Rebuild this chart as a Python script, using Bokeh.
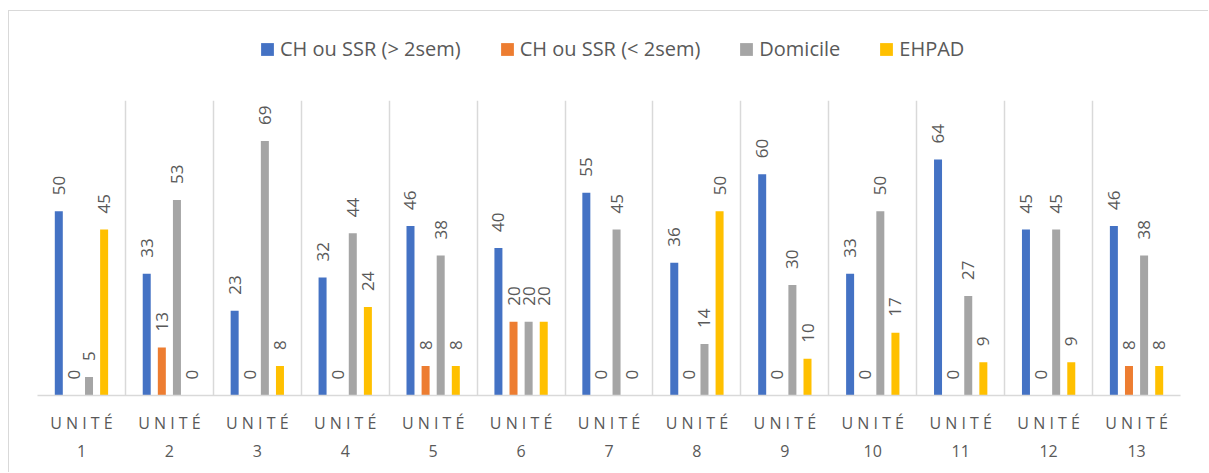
import math
from bokeh.plotting import figure
from bokeh.layouts import column
from bokeh.models import ColumnDataSource, FixedTicker, Legend, LegendItem, Range1d
from bokeh.transform import dodge
from bokeh.core.properties import value
from bokeh.embed import file_html
from bokeh.resources import INLINE

# ---- data ----
unit_numbers = ["1", "2", "3", "4", "5", "6", "7", "8", "9", "10", "11", "12", "13"]
series_names = ["CH ou SSR (> 2sem)", "CH ou SSR (< 2sem)", "Domicile", "EHPAD"]
ch_long = [50, 33, 23, 32, 46, 40, 55, 36, 60, 33, 64, 45, 46]
ch_short = [0, 13, 0, 0, 8, 20, 0, 0, 0, 0, 0, 0, 8]
domicile = [5, 53, 69, 44, 38, 20, 45, 14, 30, 50, 27, 45, 38]
ehpad = [45, 0, 8, 24, 8, 20, 0, 50, 10, 17, 9, 9, 8]

colors = ["#4472C4", "#ED7D31", "#A5A5A5", "#FFC000"]
series_values = [ch_long, ch_short, domicile, ehpad]
offsets = [-0.2577, -0.0859, 0.0859, 0.2577]
bar_width = 0.091
text_color = "#595959"
grid_color = "#d9d9d9"

centers = [i + 0.5 for i in range(len(unit_numbers))]

# ---- main chart ----
p = figure(width=1199, height=372,
           x_range=Range1d(0, len(unit_numbers)), y_range=Range1d(0, 80),
           output_backend="svg", toolbar_location=None,
           y_axis_location=None,
           min_border_left=28, min_border_right=28,
           min_border_top=0, min_border_bottom=77)
p.outline_line_color = None

# ---- legend strip ----
lf = figure(width=1199, height=89, x_range=Range1d(0, len(unit_numbers)), y_range=Range1d(1000, 1001),
            output_backend="svg", toolbar_location=None,
            x_axis_location=None, y_axis_location=None, min_border=0)
lf.outline_line_color = None
lf.xgrid.visible = False
lf.ygrid.visible = False

items = []
for name, vals, col, off in zip(series_names, series_values, colors, offsets):
    src = ColumnDataSource(dict(x=centers, top=vals, label=[str(v) for v in vals]))
    p.vbar(x=dodge("x", off, range=p.x_range), top="top", width=bar_width,
           source=src, fill_color=col, line_color=None)
    p.text(x=dodge("x", off, range=p.x_range), y="top", text="label", source=src,
           angle=math.pi / 2, text_align="left", text_baseline="middle",
           y_offset=-16, text_font=value("Open Sans"), text_font_size="17px",
           text_color=text_color)
    # legend proxy renderer (hidden) sharing the same data
    lr = lf.vbar(x=dodge("x", off, range=lf.x_range), top="top", width=bar_width,
                 source=src, fill_color=col, line_color=None, visible=False)
    items.append(LegendItem(label=name, renderers=[lr]))

# grid lines at category boundaries
p.ygrid.visible = False
p.xgrid.ticker = FixedTicker(ticks=list(range(len(unit_numbers) + 1)))
p.xgrid.grid_line_color = grid_color
p.xgrid.grid_line_width = 1.5

# x axis
p.xaxis.ticker = FixedTicker(ticks=centers)
p.xaxis.major_label_overrides = {c: "U N I T É\n" + n for c, n in zip(centers, unit_numbers)}
p.xaxis.axis_line_color = grid_color
p.xaxis.axis_line_width = 1.5
p.xaxis.major_tick_line_color = None
p.xaxis.minor_tick_line_color = None
p.xaxis.major_label_standoff = 10
p.xaxis.major_label_text_font = "Open Sans"
p.xaxis.major_label_text_font_size = "16px"
p.xaxis.major_label_text_color = text_color
p.xaxis.major_label_text_line_height = 1.3

legend = Legend(items=items, orientation="horizontal", location=(222, 38),
                glyph_width=16, glyph_height=16, label_standoff=5, spacing=38,
                padding=0, margin=0, border_line_color=None,
                background_fill_alpha=0, inactive_fill_alpha=0,
                label_text_font="Open Sans", label_text_font_size="20px",
                label_text_color=text_color)
lf.add_layout(legend, "center")

layout = column(lf, p, spacing=0,
                styles={"border-top": "1px solid #d9d9d9", "border-left": "1px solid #d9d9d9",
                        "margin-left": "8px", "margin-top": "10px"})

open("out.html", "w").write(file_html(layout, INLINE))
